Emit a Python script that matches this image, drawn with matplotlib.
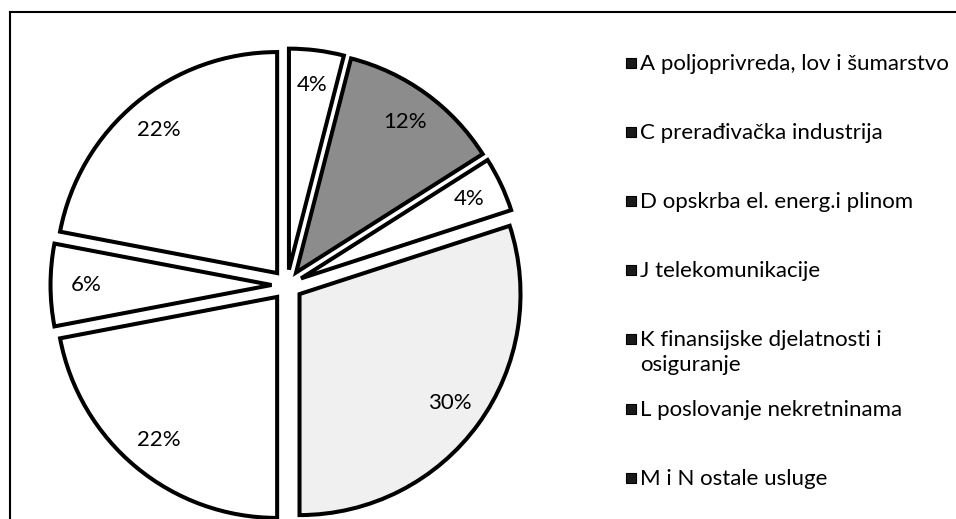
import matplotlib
matplotlib.use("Agg")
import matplotlib.pyplot as plt
from matplotlib.patches import Rectangle
from matplotlib.lines import Line2D

# shares of each sector (%), clockwise from 12 o'clock
sectors = [
    "A poljoprivreda, lov i šumarstvo",
    "C prerađivačka industrija",
    "D opskrba el. energ.i plinom",
    "J telekomunikacije",
    "K finansijske djelatnosti i\nosiguranje",
    "L poslovanje nekretninama",
    "M i N ostale usluge",
]
shares = [4, 12, 4, 30, 22, 6, 22]
fills = ["white", "#8c8c8c", "white", "#f0f0f0", "white", "white", "white"]

plt.rcParams["font.family"] = ["Lato", "DejaVu Sans"]

W, H = 956, 519
fig = plt.figure(figsize=(W / 100, H / 100), dpi=100)
ax = fig.add_axes([0, 0, 1, 1])

wedges, texts, pcts = ax.pie(
    shares,
    colors=fills,
    startangle=90,
    counterclock=False,
    explode=[0.07] * len(shares),
    autopct="%.0f%%",
    pctdistance=0.84,
    wedgeprops=dict(edgecolor="black", linewidth=2.9),
    textprops=dict(fontsize=16, color="black"),
)

# pie centre sits at (287, 285) px, radius 221 px
cx, cy, r = 287, 285, 221
ax.set_aspect("auto")
ax.set_xlim(-cx / r, (W - cx) / r)
ax.set_ylim(-(H - cy) / r, cy / r)
ax.axis("off")

# legend laid out like the Excel one: first lines on evenly spaced rows
row0, step = 63, 69.1
for i, lab in enumerate(sectors):
    y = row0 + step * i
    fig.add_artist(Rectangle((626 / W, 1 - (y + 5) / H), 10 / W, 10 / H,
                             transform=fig.transFigure, facecolor="#1a1a1a",
                             edgecolor="black", lw=0.8))
    fig.text(640 / W, 1 - (y - 9) / H, lab, fontsize=16, va="top", ha="left",
             linespacing=1.3)

# scanned frame: top and left border
fig.add_artist(Line2D([10 / W, 1], [1 - 12 / H, 1 - 12 / H], color="black", lw=1.5))
fig.add_artist(Line2D([10 / W, 10 / W], [0, 1 - 12 / H], color="black", lw=1.5))

fig.savefig("out.png", dpi=100)
